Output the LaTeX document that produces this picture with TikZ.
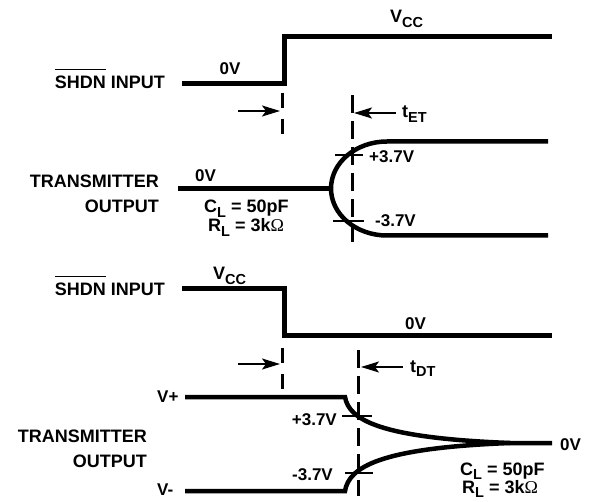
\documentclass[tikz,border=0pt]{standalone}
\usepackage{fontspec}
\setmainfont{Liberation Sans}
\newfontfamily\omegafont{Liberation Serif}
\usetikzlibrary{arrows.meta}
\newcommand\sbs[1]{\raisebox{-4.5pt}{\fontsize{14.5}{15}\selectfont #1}}
\newcommand\ovl[1]{\setbox0\hbox{#1}\rlap{\raisebox{18.5pt}{\rule{\wd0}{1.8pt}}}\box0\relax}
\newcommand\Om{{\omegafont\mdseries Ω}}
\begin{document}
\begin{tikzpicture}[x=1pt,y=-1pt,
  wave/.style={line width=5pt, line join=miter},
  curvewave/.style={line width=4.5pt},
  guide/.style={line width=3pt, dash pattern=on 15pt off 11pt},
  guidelong/.style={line width=3pt, dash pattern=on 18pt off 8pt},
  tickmark/.style={line width=2.5pt},
  timearrow/.style={line width=2pt, -{Stealth[length=18pt,width=11pt,inset=4pt]}},
  lbl/.style={font=\bfseries\fontsize{18}{20}\selectfont, inner sep=0pt},
  slbl/.style={font=\bfseries\fontsize{17}{19}\selectfont, inner sep=0pt}]
\useasboundingbox (0,0) rectangle (594,502);

% ---------------- TOP: enable ----------------
\node[lbl, anchor=base east] (shdnA) at (165,89) {\ovl{SHDN} INPUT};
\node[slbl, anchor=base] (zeroA) at (230,75) {0V};
\node[lbl, anchor=base west] (vccA) at (390,23) {V\sbs{CC}};
\coordinate (a0) at (182,84);
\coordinate (a1) at (284,84);
\coordinate (a2) at (284,37);
\coordinate (a3) at (552,37);
\draw[wave] (a0) -- (a1) -- (a2) -- (a3);

\coordinate (ga0) at (282,93);  \coordinate (ga1) at (282,135);
\coordinate (gb0) at (352,95);  \coordinate (gb1) at (352,242);
\draw[guide] (ga0) -- (ga1);
\draw[guidelong] (gb0) -- (gb1);
\coordinate (arA0) at (238,111); \coordinate (arA1) at (280,111);
\coordinate (arB0) at (396,113); \coordinate (arB1) at (354,113);
\draw[timearrow] (arA0) -- (arA1);
\draw[timearrow] (arB0) -- (arB1);
\node[lbl, anchor=base west] (tET) at (402,118) {t\sbs{ET}};

\node[lbl, anchor=base east] (txA1) at (159,188) {TRANSMITTER};
\node[lbl, anchor=base east] (txA2) at (159,213) {OUTPUT};
\node[slbl, anchor=base west] (zeroB) at (195,182) {0V};
\node[lbl, anchor=base west] (clA) at (204,213) {C\sbs{L} = 50pF};
\node[lbl, anchor=base west] (rlA) at (208,232) {R\sbs{L} = 3k\Om};

\coordinate (t0) at (178,188.5);
\coordinate (t1) at (331,188.5);
\coordinate (tu) at (387,141.5);
\coordinate (tu1) at (548,141.5);
\coordinate (tl) at (387,235.5);
\coordinate (tl1) at (548,235.5);
\draw[wave] (t0) -- (t1);
\draw[curvewave] (tu1) -- (tu) arc (-90:-270:56 and 47) -- (tl1);
\coordinate (tk1a) at (335,155); \coordinate (tk1b) at (363,155);
\coordinate (tk2a) at (333,221); \coordinate (tk2b) at (364,221);
\draw[tickmark] (tk1a) -- (tk1b);
\draw[tickmark] (tk2a) -- (tk2b);
\node[slbl, anchor=base west] (pA) at (369,163) {+3.7V};
\node[slbl, anchor=base west] (mA) at (375,227) {-3.7V};

% ---------------- BOTTOM: disable ----------------
\node[lbl, anchor=base east] (shdnB) at (165,296) {\ovl{SHDN} INPUT};
\node[lbl, anchor=base west] (vccB) at (213,280) {V\sbs{CC}};
\node[slbl, anchor=base west] (zeroC) at (405,330) {0V};
\coordinate (b0) at (182,289);
\coordinate (b1) at (284,289);
\coordinate (b2) at (284,336);
\coordinate (b3) at (552,336);
\draw[wave] (b0) -- (b1) -- (b2) -- (b3);

\coordinate (gc0) at (282,348);  \coordinate (gc1) at (282,390);
\coordinate (gd0) at (358,350);  \coordinate (gd1) at (358,496);
\draw[guide] (gc0) -- (gc1);
\draw[guidelong] (gd0) -- (gd1);
\coordinate (arC0) at (238,364); \coordinate (arC1) at (280,364);
\coordinate (arD0) at (403,367); \coordinate (arD1) at (361,367);
\draw[timearrow] (arC0) -- (arC1);
\draw[timearrow] (arD0) -- (arD1);
\node[lbl, anchor=base west] (tDT) at (410,372) {t\sbs{DT}};

\node[slbl, anchor=base west] (vp) at (157,402) {V+};
\node[slbl, anchor=base west] (vm) at (157,495) {V-};
\node[lbl, anchor=base east] (txB1) at (147,442) {TRANSMITTER};
\node[lbl, anchor=base east] (txB2) at (147,467) {OUTPUT};

\coordinate (p0) at (185,397);
\coordinate (p1) at (345,397);
\coordinate (m0) at (185,491);
\coordinate (m1) at (345,491);
\coordinate (z0) at (510,443);
\coordinate (z1) at (552,443);
\draw[curvewave] (p0) -- (p1) .. controls (349,420) and (380,438) .. (z0) -- (z1);
\draw[curvewave] (m0) -- (m1) .. controls (349,467) and (380,448) .. (z0);
\coordinate (tk3a) at (342,416); \coordinate (tk3b) at (372,416);
\coordinate (tk4a) at (345,473); \coordinate (tk4b) at (373,473);
\draw[tickmark] (tk3a) -- (tk3b);
\draw[tickmark] (tk4a) -- (tk4b);
\node[slbl, anchor=base east] (pB) at (337,425) {+3.7V};
\node[slbl, anchor=base east] (mB) at (333,480) {-3.7V};
\node[slbl, anchor=base west] (zeroD) at (560,450) {0V};
\node[lbl, anchor=base west] (clB) at (460,475) {C\sbs{L} = 50pF};
\node[lbl, anchor=base west] (rlB) at (462,493) {R\sbs{L} = 3k\Om};
\end{tikzpicture}
\end{document}
